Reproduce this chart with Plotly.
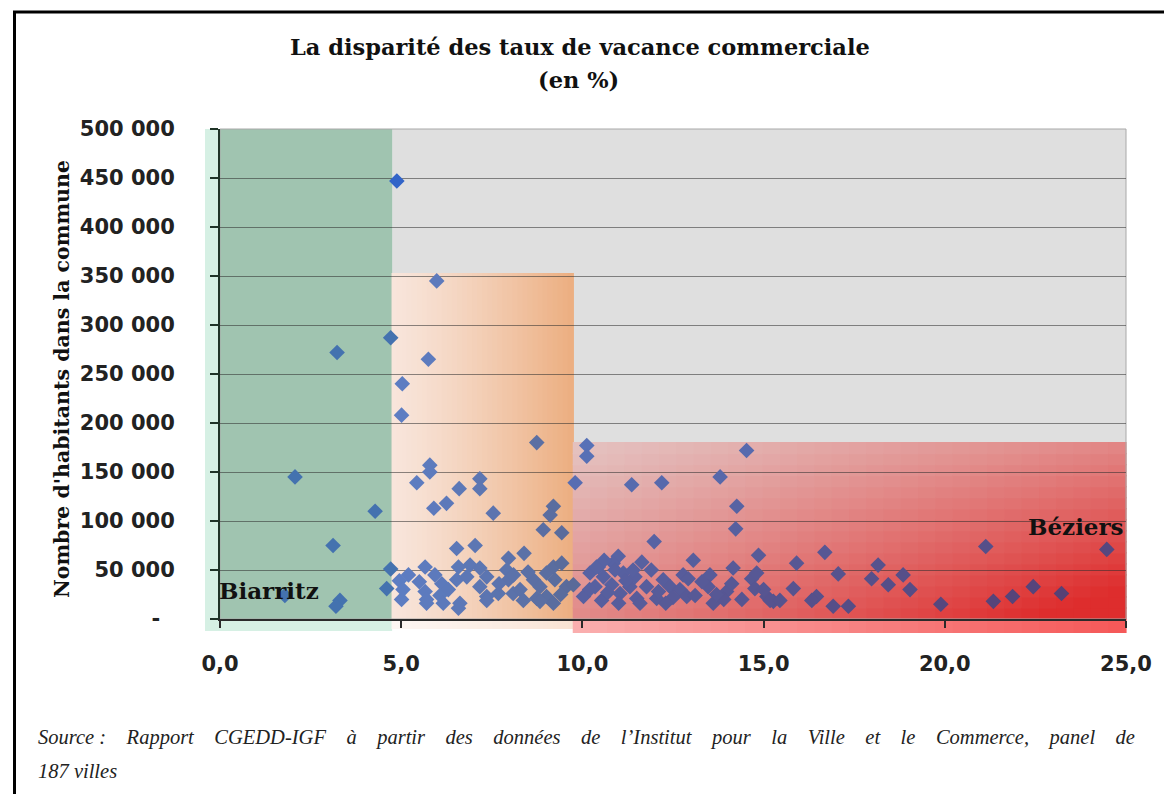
import plotly.graph_objects as go

# ---------------- data ----------------
taux_vacance = [
    1.79, 2.07, 3.12, 3.23, 3.31, 3.20, 4.28, 4.60, 4.71, 4.71, 4.88, 4.95, 5.01, 5.03, 5.01,
    5.98, 5.75, 8.74, 5.79, 5.79, 5.43, 7.17, 7.17, 6.60, 9.80, 6.25, 5.90, 7.54, 9.20, 9.11,
    8.92, 9.43, 6.53, 7.04, 8.39, 7.96,
    5.66, 5.93, 6.12, 5.66, 5.70, 6.07, 6.16, 6.58, 6.90, 6.62, 6.58, 7.17, 7.36, 7.17, 7.36,
    7.68, 7.91, 7.96, 8.09, 8.28, 8.37, 8.65, 8.83, 9.01, 9.20, 9.43, 9.24, 9.01, 8.74, 9.20,
    9.56, 6.53, 6.81, 5.70, 7.36, 8.83, 7.70, 8.50, 5.50, 5.05, 5.20, 6.30, 8.10, 9.40,
    10.12, 10.12, 14.53, 11.36, 12.19, 13.80, 14.26, 14.23, 11.98, 14.86, 13.06, 11.64, 10.99,
    9.75, 10.03, 10.21, 10.44, 10.58, 10.35, 10.53, 10.81, 10.85, 11.13, 11.04, 11.31, 11.50,
    11.59, 11.45, 11.77, 12.05, 12.23, 12.42, 12.69, 12.78, 12.88, 13.11, 12.92, 13.52, 13.47,
    13.61, 13.98, 14.16, 14.12, 14.67, 14.81, 14.76, 15.09, 15.27,
    15.18, 15.45, 15.82, 15.91, 16.69, 16.46, 16.33, 16.92, 17.34, 17.06, 18.16, 17.98, 18.44,
    18.85, 19.04, 19.89, 21.13, 24.47, 21.34, 21.87, 22.44, 23.22, 15.00,
    10.70, 11.20, 10.90, 11.90, 12.50, 13.30, 11.00, 10.39, 12.10, 13.90, 10.20, 10.60, 11.40,
    12.30, 13.70, 14.40,
]
habitants = [
    24000, 145000, 75000, 272000, 19000, 13000, 110000, 31000, 51000, 287000, 447000, 39000, 20000, 240000, 208000,
    345000, 265000, 180000, 157000, 150000, 139000, 143000, 133000, 133000, 139000, 118000, 113000, 108000, 115000, 106000,
    91000, 88000, 72000, 75000, 67000, 62000,
    53000, 45000, 36000, 28000, 16000, 24000, 16000, 53000, 55000, 16000, 11000, 52000, 43000, 33000, 23000,
    26000, 50000, 40000, 26000, 30000, 19000, 40000, 33000, 47000, 53000, 57000, 40000, 23000, 21000, 16000,
    33000, 40000, 43000, 20000, 19000, 18000, 36000, 48000, 38000, 30000, 45000, 30000, 45000, 25000,
    177000, 166000, 172000, 137000, 139000, 145000, 115000, 92000, 79000, 65000, 60000, 58000, 64000,
    35000, 23000, 47000, 53000, 43000, 33000, 19000, 35000, 57000, 47000, 26000, 33000, 21000,
    16000, 43000, 33000, 21000, 40000, 33000, 30000, 45000, 23000, 24000, 41000, 45000, 33000,
    16000, 28000, 52000, 36000, 41000, 47000, 31000, 23000, 18000,
    19000, 19000, 31000, 57000, 68000, 23000, 19000, 13000, 13000, 46000, 55000, 41000, 35000,
    45000, 30000, 15000, 74000, 71000, 18000, 23000, 33000, 26000, 30000,
    27000, 39000, 50000, 50000, 22000, 38000, 16000, 53000, 28000, 20000, 30000, 60000, 50000,
    16000, 25000, 20000,
]

x_ticks = [0, 5, 10, 15, 20, 25]
x_labels = ["0,0", "5,0", "10,0", "15,0", "20,0", "25,0"]
y_ticks = [0, 50000, 100000, 150000, 200000, 250000, 300000, 350000, 400000, 450000, 500000]
y_labels = ["-\u00a0\u00a0", "50 000", "100 000", "150 000", "200 000", "250 000",
            "300 000", "350 000", "400 000", "450 000", "500 000"]

title_1 = "La disparité des taux de vacance commerciale"
title_2 = "(en %)"
y_title = "Nombre d'habitants dans la commune"
source_1_words = ["Source\u00a0:", "Rapport", "CGEDD-IGF", "à", "partir", "des", "données", "de",
                  "l’Institut", "pour", "la", "Ville", "et", "le", "Commerce,", "panel", "de"]
source_2 = "187 villes"

# thresholds of the coloured zones (data units)
green_max_x = 4.75
orange_max_x = 9.75
orange_max_y = 353000
red_max_y = 180000

# ---------------- layout geometry ----------------
W, H = 1172, 794
OFF = 8  # page margin of the browser body
PL, PT, PR, PBOT = 220, 129, 1126, 619  # plot area in screen pixels
PW, PH = PR - PL, PBOT - PT
L = PL - OFF
T = PT - OFF
R = W - L - PW
B = H - T - PH
XR = [0, 25]
YR = [0, 500000]


def ax(px):
    return (px - PL) / PW


def ay(py):
    return (PBOT - py) / PH


def dx(v):
    return (v - XR[0]) / (XR[1] - XR[0])


def dy(v):
    return (v - YR[0]) / (YR[1] - YR[0])


def lerp(a, b, t):
    return tuple(a[i] + (b[i] - a[i]) * t for i in range(3))


def rgb(c):
    return "rgb(%d,%d,%d)" % tuple(int(round(max(0, min(255, v)))) for v in c)


GREY = (223, 223, 223)
GREEN = (160, 196, 176)
MINT = (214, 240, 228)


def orange_col(u):
    return lerp((248, 229, 219), (236, 174, 128), u ** 1.25)


def red_col(u, v):
    t = min(1.0, 0.4 * u + 0.38 * v + 0.35 * u * v)
    return lerp((228, 196, 194), (222, 45, 45), t)


def zone_color(x, y):
    if x <= green_max_x:
        return GREEN
    if x <= orange_max_x and y <= orange_max_y:
        return orange_col((x - green_max_x) / (orange_max_x - green_max_x))
    if x > orange_max_x and y <= red_max_y:
        return red_col((x - orange_max_x) / (XR[1] - orange_max_x), 1 - y / red_max_y)
    return GREY


shapes = []


def rect(x0, x1, y0, y1, color, layer="below"):
    shapes.append(dict(type="rect", xref="paper", yref="paper", x0=x0, x1=x1, y0=y0, y1=y1,
                       fillcolor=color, line=dict(width=0), layer=layer))


ex = 0.6 / PW
ey = 0.6 / PH

rect(0, 1, 0, 1, rgb(GREY))
rect(ax(205), dx(green_max_x), ay(631), 1, rgb(MINT))
rect(0, dx(green_max_x), 0, 1, rgb(GREEN))

NO = 36
for i in range(NO):
    u = (i + 0.5) / NO
    c = orange_col(u)
    x0 = dx(green_max_x) + (dx(orange_max_x) - dx(green_max_x)) * i / NO
    x1 = dx(green_max_x) + (dx(orange_max_x) - dx(green_max_x)) * (i + 1) / NO
    rect(x0 - ex, x1 + ex, 0, dy(orange_max_y), rgb(c))
    rect(x0 - ex, x1 + ex, ay(629), 0, rgb(lerp((255, 255, 255), c, 0.35)))

NXr, NYr = 32, 16
for i in range(NXr):
    u = (i + 0.5) / NXr
    x0 = dx(orange_max_x) + (1 - dx(orange_max_x)) * i / NXr
    x1 = dx(orange_max_x) + (1 - dx(orange_max_x)) * (i + 1) / NXr
    for j in range(NYr):
        v = 1 - (j + 0.5) / NYr
        y0 = dy(red_max_y) * j / NYr
        y1 = dy(red_max_y) * (j + 1) / NYr
        rect(x0 - ex, x1 + ex, y0 - ey, y1 + ey, rgb(red_col(u, v)))
    rect(x0 - ex, x1 + ex, ay(633), 0, rgb(lerp((250, 175, 175), (245, 88, 88), u)))

shapes.append(dict(type="rect", xref="paper", yref="paper", x0=0, x1=1, y0=0, y1=1,
                   line=dict(color="#a8a8a8", width=1), fillcolor="rgba(0,0,0,0)", layer="below"))

shapes.append(dict(type="line", xref="paper", yref="paper", x0=ax(13), x1=ax(1180), y0=ay(12), y1=ay(12),
                   line=dict(color="black", width=3), layer="above"))
shapes.append(dict(type="line", xref="paper", yref="paper", x0=ax(14.5), x1=ax(14.5), y0=ay(12), y1=ay(800),
                   line=dict(color="black", width=3), layer="above"))

# marker colour: Excel blue, tinted by the translucent zone drawn over it
BLUE = (50, 100, 200)


def marker_color(x, y):
    bg = zone_color(x, y)
    if bg == GREY:
        return rgb(BLUE)
    mult = tuple(BLUE[k] * bg[k] / 255 for k in range(3))
    base = lerp(BLUE, mult, 0.4)
    return rgb(lerp(base, bg, 0.22))


marker_colors = [marker_color(x, y) for x, y in zip(taux_vacance, habitants)]

fig = go.Figure()
fig.add_trace(go.Scatter(
    x=taux_vacance, y=habitants, mode="markers",
    marker=dict(symbol="diamond", size=12, color=marker_colors, line=dict(width=0)),
    hoverinfo="x+y", showlegend=False,
))

annotations = []


def text(px, py, s, size, family, color="#111111", xanchor="center", angle=0):
    annotations.append(dict(x=ax(px), y=ay(py), xref="paper", yref="paper", text=s, showarrow=False,
                            xanchor=xanchor, yanchor="middle", textangle=angle,
                            font=dict(size=size, family=family, color=color)))


serif = "DejaVu Serif"
text(580, 47, "<b>%s</b>" % title_1, 22.5, serif)
text(578, 80, "<b>%s</b>" % title_2, 22.5, serif)
text(62, 379, "<b>%s</b>" % y_title, 20.5, serif, angle=-90)
text(269, 590, "<b>Biarritz</b>", 23, serif)
text(1076, 526, "<b>Béziers</b>", 23, serif)

gap = " \u00a0\u00a0\u00a0"
text(36, 737, "<i>%s</i>" % gap.join(source_1_words), 20.5, "Liberation Serif", "#222222", xanchor="left")
text(36, 771, "<i>%s</i>" % source_2, 20.5, "Liberation Serif", "#222222", xanchor="left")

tickfont = dict(family="DejaVu Sans", size=21, color="#222222", weight="bold")

fig.update_layout(
    width=W, height=H,
    margin=dict(l=L, r=R, t=T, b=B, pad=0),
    paper_bgcolor="white",
    plot_bgcolor="rgba(0,0,0,0)",
    shapes=shapes,
    annotations=annotations,
    xaxis=dict(range=XR, tickvals=x_ticks, ticktext=x_labels, showgrid=False, zeroline=False,
               showline=True, linecolor="#2a2a2a", linewidth=2, ticks="outside", ticklen=7,
               tickwidth=1.5, tickcolor="#2a2a2a", tickfont=tickfont, ticklabelstandoff=18,
               fixedrange=True),
    yaxis=dict(range=YR, tickvals=y_ticks, ticktext=y_labels, showgrid=True,
               gridcolor="rgba(45,45,45,0.55)", gridwidth=1.3, zeroline=False,
               showline=True, linecolor="#1f3327", linewidth=2, ticks="outside", ticklen=8,
               tickwidth=1.5, tickcolor="#1f3327", tickfont=tickfont, ticklabelstandoff=31,
               fixedrange=True),
)

fig.write_html("out.html")
